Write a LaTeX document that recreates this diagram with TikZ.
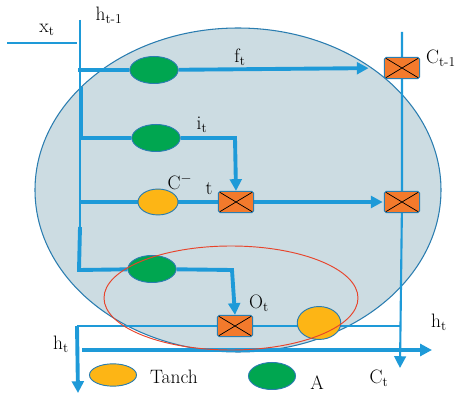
\documentclass[tikz,border=0pt]{standalone}
\usepackage{tikz}
\usetikzlibrary{shapes.geometric, arrows.meta, backgrounds}
\definecolor{cellfill}{HTML}{CCDCE2}
\definecolor{celledge}{HTML}{2A7DB0}
\definecolor{wire}{HTML}{1E9AD8}
\definecolor{sigm}{HTML}{00A650}
\definecolor{tanc}{HTML}{FDB515}
\definecolor{mult}{HTML}{F37A2C}
\definecolor{focus}{HTML}{E8432A}
\tikzset{
  sig/.style={ellipse, draw=celledge, line width=0.8pt, fill=sigm, minimum width=41pt, minimum height=23pt, inner sep=0pt},
  tnh/.style={ellipse, draw=celledge, line width=0.8pt, fill=tanc, minimum width=34pt, minimum height=22pt, inner sep=0pt},
  mul/.style={rectangle, rounded corners=1.5pt, draw=celledge, line width=0.8pt, fill=mult, minimum width=30pt, minimum height=18pt, inner sep=0pt,
    path picture={\draw[black, line width=0.6pt] (path picture bounding box.north west)--(path picture bounding box.south east)
      (path picture bounding box.south west)--(path picture bounding box.north east);}},
  lbl/.style={font=\fontsize{16.5}{19}\selectfont, inner sep=0pt},
  thk/.style={wire, line width=3.3pt},
  med/.style={wire, line width=1.8pt},
  thn/.style={wire, line width=1.1pt},
  arr/.style={-{Triangle[length=10pt, width=10pt]}},
}
\begin{document}
\begin{tikzpicture}[x=0.85pt, y=-0.85pt]
\useasboundingbox (0,0) rectangle (459,397);
% gates
\node[sig] (sf) at (154,70) {};
\node[sig] (si) at (156,138) {};
\node[tnh] (sc) at (158,202) {};
\node[sig] (so) at (152,269) {};
\node[mul] (mf) at (402,68) {};
\node[mul] (mi) at (236,202) {};
\node[mul] (mc) at (402,202) {};
\node[mul] (mo) at (235,326) {};
\node[tnh, minimum width=37pt, minimum height=28pt] (th) at (319,323) {};
% wire points
\coordinate (xa) at (7,43); \coordinate (xb) at (77,43);
\coordinate (ha) at (80,20); \coordinate (hb) at (80,227);
\coordinate (ca) at (402,32); \coordinate (cb) at (400,368);
\coordinate (oa) at (77,326); \coordinate (ob) at (400,326);
\coordinate (od) at (78,393);
\coordinate (ha1) at (82,350); \coordinate (hb1) at (432,350);
\begin{scope}[on background layer]
% cell body
\draw[celledge, line width=0.9pt, fill=cellfill] (238,190) ellipse [x radius=203, y radius=162];
% wires
\draw[thn] (xa)--(xb);
\draw[thn] (ha)--(hb);
\draw[thk, arr, shorten >=13pt] (78,70)--(sf)--(mf.west);
\draw[thk, arr] (81,87)--(81,138)--(si)--(235,138)--(mi.north);
\draw[thk, arr, shorten >=1pt] (80,202)--(sc)--(mi)--(mc.west);
\draw[thk, arr] (hb)--(79,270)--(so)--(232,270)--(mo.north);
\draw[med, arr] (ca)--(mf)--(mc)--(cb);
\draw[thn] (oa)--(mo)--(ob);
\draw[thk, arr] (oa)--(od);
\draw[thk, arr] (ha1)--(hb1);
\end{scope}
% output part
\draw[focus, line width=0.8pt] (231,298) ellipse [x radius=127, y radius=52];
% labels
\node[lbl] (lx) at (47,30) {x\textsubscript{t}};
\node[lbl] (lh) at (109,15) {h\textsubscript{t-1}};
\node[lbl] (lf) at (240,57) {f\textsubscript{t}};
\node[lbl] (lc) at (441,58) {C\textsubscript{t-1}};
\node[lbl] (li) at (202,125) {i\textsubscript{t}};
\node[lbl] (lcm) at (180,182) {C\textsuperscript{$-$}};
\node[lbl] (lt) at (209,189) {t};
\node[lbl] (lo) at (259,303) {O\textsubscript{t}};
\node[lbl] (lhr) at (439,322) {h\textsubscript{t}};
\node[lbl] (lhl) at (61,344) {h\textsubscript{t}};
\node[lbl] (lct) at (379,378) {C\textsubscript{t}};
% legend
\node[tnh, minimum width=40pt, minimum height=19pt] (kt) at (113,375) {};
\node[lbl, anchor=west] (ktl) at (150,377) {Tanch};
\node[sig, minimum width=40pt, minimum height=23pt] (ks) at (272,376) {};
\node[lbl] (ksl) at (317,383) {A};
\end{tikzpicture}
\end{document}
